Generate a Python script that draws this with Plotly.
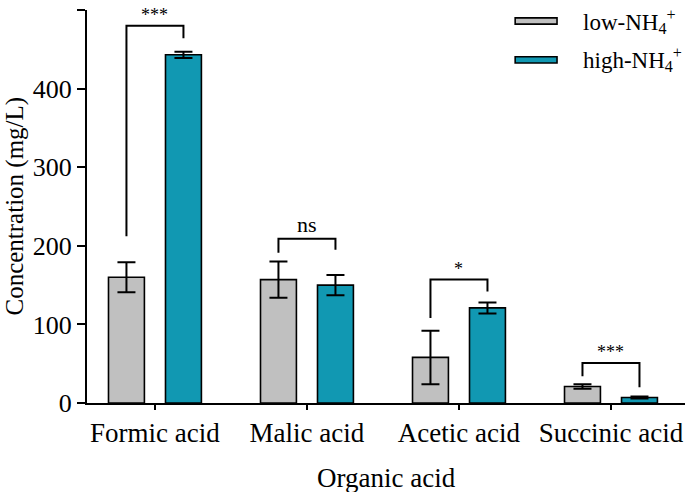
import plotly.graph_objects as go

categories = ["Formic acid", "Malic acid", "Acetic acid", "Succinic acid"]
low_vals = [160, 157, 58, 21]
low_err = [19, 23, 34, 3]
high_vals = [443, 150, 121, 7]
high_err = [4, 13, 7, 1.2]

sig_labels = ["***", "ns", "*", "***"]
sig_left = [212, 191, 108, 34]
sig_top = [480, 209, 157, 51]
sig_right = [464, 195, 142, 20]

FONT = "Times New Roman, Liberation Serif, serif"
GRAY = "#C0C0C0"
TEAL = "#1198B2"

fig = go.Figure()
fig.add_trace(go.Bar(x=categories, y=low_vals, name="low",
                     marker=dict(color=GRAY, line=dict(color="black", width=1.6)),
                     error_y=dict(type="data", array=low_err, color="black", thickness=2, width=9),
                     showlegend=False))
fig.add_trace(go.Bar(x=categories, y=high_vals, name="high",
                     marker=dict(color=TEAL, line=dict(color="black", width=1.6)),
                     error_y=dict(type="data", array=high_err, color="black", thickness=2, width=9),
                     showlegend=False))

off = 0.1875
shapes = []
annotations = []
for i, lab in enumerate(sig_labels):
    xl, xr = i - off, i + off
    shapes.append(dict(type="path", xref="x", yref="y",
                       path=f"M {xl},{sig_left[i]} L {xl},{sig_top[i]} L {xr},{sig_top[i]} L {xr},{sig_right[i]}",
                       line=dict(color="black", width=2)))
    annotations.append(dict(x=i, y=sig_top[i], xref="x", yref="y", text=lab, showarrow=False,
                            yanchor="bottom", yshift=-1 if lab != "ns" else 0,
                            font=dict(family=FONT, size=18 if lab != "ns" else 22, color="black")))

# legend (custom)
leg = [("low-NH<sub>4</sub><sup>+</sup>", GRAY, 0.972), ("high-NH<sub>4</sub><sup>+</sup>", TEAL, 0.873)]
for text, col, yc in leg:
    shapes.append(dict(type="rect", xref="paper", yref="paper", x0=0.716, x1=0.786,
                       y0=yc - 0.008, y1=yc + 0.008, fillcolor=col, line=dict(color="black", width=1.6)))
    annotations.append(dict(x=0.826, y=yc, xref="paper", yref="paper", text=text, showarrow=False,
                            xanchor="left", yanchor="middle",
                            font=dict(family=FONT, size=23, color="black")))

annotations.append(dict(x=0.5, y=-0.191, xref="paper", yref="paper", text="Organic acid", showarrow=False,
                        xanchor="center", yanchor="middle", font=dict(family=FONT, size=27, color="black")))
annotations.append(dict(x=-0.122, y=0.5, xref="paper", yref="paper", text="Concentration (mg/L)",
                        showarrow=False, textangle=-90, xanchor="center", yanchor="middle",
                        font=dict(family=FONT, size=25, color="black")))

fig.update_layout(
    width=685, height=492,
    margin=dict(l=87, r=0, t=10, b=89, autoexpand=False),
    paper_bgcolor="white", plot_bgcolor="white",
    barmode="group", bargap=0.25, bargroupgap=0.37,
    font=dict(family=FONT, color="black"),
    shapes=shapes, annotations=annotations,
    xaxis=dict(range=[-0.447, 3.487], showline=True, linecolor="black", linewidth=2, automargin=False,
               ticks="outside", ticklen=5, tickwidth=2, tickcolor="black",
               tickfont=dict(family=FONT, size=27, color="black"), showgrid=False, zeroline=False),
    yaxis=dict(range=[0, 500], tickvals=[0, 100, 200, 300, 400, 500], showline=True, linecolor="black",
               linewidth=2, ticks="outside", ticklen=8, tickwidth=2, tickcolor="black", automargin=False,
               tickfont=dict(family=FONT, size=26, color="black"), showgrid=False, zeroline=False),
)

fig.write_html("out.html", config={"displayModeBar": False},
               post_script="document.body.style.margin='0';document.body.style.overflow='hidden';")
